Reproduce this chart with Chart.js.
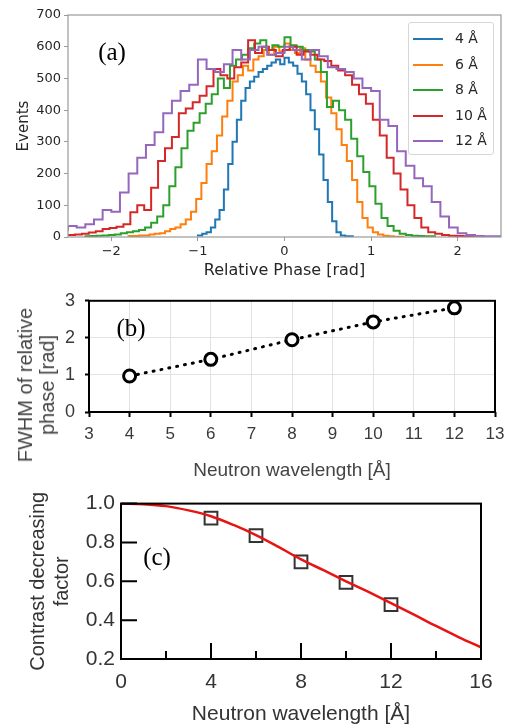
<!DOCTYPE html>
<html>
<head>
<meta charset="utf-8">
<script src="https://cdn.jsdelivr.net/npm/chart.js@4"></script>
<style>
body { margin:0; background:#fff; }
#wrap { position:relative; width:512px; height:728px; overflow:hidden; background:#fff; }
#wrap canvas { position:absolute; left:0; }
.panel { position:absolute; font-family:'Liberation Serif', serif; font-size:25px; color:#000; transform:translate(-50%,-50%); }
#ytitle_b { position:absolute; left:36px; top:385px; transform:translate(-50%,-50%) rotate(-90deg);
  font-family:'Liberation Sans', Arial, sans-serif; font-size:20px; line-height:22px; color:#444; text-align:center; white-space:nowrap; }
#legend { position:absolute; left:408px; top:22px; width:86px; height:133px; box-sizing:border-box; padding-top:3px;
  border:1px solid #d6d6d6; border-radius:3px; background:rgba(255,255,255,0.8);
  font-family:'DejaVu Sans', sans-serif; font-size:14px; color:#262626; }
#legend .item { height:25.5px; line-height:25.5px; white-space:nowrap; }
#legend .swatch { display:inline-block; width:30px; height:2px; margin-left:4px; margin-right:12px; vertical-align:middle; }
</style>
</head>
<body>
<div id="wrap">
  <canvas id="chartA" width="512" height="280" style="top:0px"></canvas>
  <canvas id="chartB" width="512" height="205" style="top:280px"></canvas>
  <canvas id="chartC" width="512" height="243" style="top:485px"></canvas>
  <div id="legend"></div>
  <div id="ytitle_b">FWHM of relative<br>phase [rad]</div>
  <div class="panel" style="left:112px;top:52px">(a)</div>
  <div class="panel" style="left:131px;top:328px">(b)</div>
  <div class="panel" style="left:157px;top:557px">(c)</div>
</div>
<script>
// (a) histograms of relative phase, one per wavelength
var phase_labels = ['4 Å', '6 Å', '8 Å', '10 Å', '12 Å'];
var phase_colors = ['#1f77b4', '#ff7f0e', '#2ca02c', '#d62728', '#9467bd'];
var bin_start = [-1.0, -1.8, -2.31, -2.5, -2.5];
var bin_width = [0.05, 0.06, 0.07, 0.08, 0.1];

var events_4 = [2,5,10,15,30,55,85,150,230,300, 370,430,470,490,505,520,530,540,550,560,
  545,565,550,540,515,490,450,400,340,260, 180,110,50,15,5,2];
var events_6 = [2,3,3,5,5,8,10,12,18,25, 30,40,55,80,120,170,230,270,320,380,
  430,490,510,540,525,560,570,590,575,600, 585,610,590,580,595,560,540,520,490,440,
  390,340,290,240,180,110,60,30,15,8, 4,2,1];
var events_8 = [2,2,3,4,5,6,8,12,15,18, 22,30,45,65,100,160,220,280,335,360,
  390,420,450,500,470,540,560,575,595,610, 620,590,605,600,630,605,600,590,585,560,
  520,410,430,400,370,310,255,205,160,105, 60,35,20,10,6,4,3,2];
var events_10 = [5,6,8,10,14,18,25,28,32,40, 78,100,85,155,240,280,315,390,405,425,
  445,475,530,510,500,535,550,620,580,600, 590,570,590,600,575,585,575,560,555,540,
  525,510,480,450,420,370,320,250,200,150, 100,60,30,15,10,6,4,3,2];
var events_12 = [20,35,30,40,55,85,80,140,200,250, 290,330,390,430,460,480,560,530,520,545,
  590,560,590,600,575,580,600,590,560,590, 570,535,530,520,500,470,460,370,350,270,
  225,185,160,110,65,30,12,6,3,2];
var phase_events = [events_4, events_6, events_8, events_10, events_12];
var phase_ticks_x = [-2, -1, 0, 1, 2];

// (b) FWHM vs wavelength
var wavelengths = [4, 6, 8, 10, 12];
var fwhm = [0.97, 1.42, 1.95, 2.43, 2.81];

// (c) contrast decreasing factor
var contrast = [0.925, 0.835, 0.70, 0.595, 0.48];
var fit_lambda = [0,1,2,3,4,5,6,7,8,9,10,11,12,13,14,15,16];
var fit_contrast = [1.0,0.997,0.987,0.965,0.935,0.89,0.838,0.777,0.713,0.657,0.6,0.545,0.488,0.43,0.37,0.313,0.26];
var ticks_c_x = [0, 4, 8, 12, 16];
var minor_c_x = [2, 6, 10, 14];
var ticks_c_y = [0.2, 0.4, 0.6, 0.8, 1.0];

Chart.defaults.font.family = "'Liberation Sans', Arial, sans-serif";
Chart.defaults.animation = false;
Chart.defaults.plugins.legend.display = false;
Chart.defaults.plugins.tooltip.enabled = false;

var framePlugin = {
	id: 'frame',
	afterDatasetsDraw: function(chart, args, opts) {
		var a = chart.chartArea;
		var ctx = chart.ctx;
		ctx.save();
		ctx.strokeStyle = opts.color;
		ctx.lineWidth = opts.width;
		ctx.strokeRect(a.left, a.top, a.right - a.left, a.bottom - a.top);
		ctx.restore();
	}
};

var innerTicksPlugin = {
	id: 'innerTicks',
	afterDatasetsDraw: function(chart) {
		var a = chart.chartArea;
		var ctx = chart.ctx;
		var sx = chart.scales.x, sy = chart.scales.y;
		ctx.save();
		ctx.strokeStyle = '#000';
		ctx.lineWidth = 2;
		ctx.beginPath();
		sx.ticks.forEach(function(t) {
			var px = sx.getPixelForValue(t.value);
			ctx.moveTo(px, a.bottom); ctx.lineTo(px, a.bottom - 16);
		});
		minor_c_x.forEach(function(v) {
			var px = sx.getPixelForValue(v);
			ctx.moveTo(px, a.bottom); ctx.lineTo(px, a.bottom - 8);
		});
		sy.ticks.forEach(function(t) {
			var py = sy.getPixelForValue(t.value);
			ctx.moveTo(a.left, py); ctx.lineTo(a.left + 16, py);
		});
		ctx.stroke();
		ctx.restore();
	}
};

function histPoints(i)
{
	var vals = phase_events[i];
	var pts = [];
	for (var k = 0; k < vals.length; k++)
		pts.push({x: bin_start[i] + k * bin_width[i], y: vals[k]});
	pts.push({x: bin_start[i] + vals.length * bin_width[i], y: vals[vals.length - 1]});
	return pts;
}

function fixedTicks(list)
{
	return function(scale) {
		scale.ticks = list.map(function(v) { return {value: v}; });
	};
}

// ---- (a)
var fontA = "'DejaVu Sans', sans-serif";
var setsA = [];
for (var i = 0; i < phase_labels.length; i++) {
	setsA.push({
		label: phase_labels[i],
		data: histPoints(i),
		borderColor: phase_colors[i],
		borderWidth: 2,
		pointRadius: 0,
		stepped: 'after',
		fill: false,
		order: phase_labels.length - 1 - i
	});
}

new Chart(document.getElementById('chartA'), {
	type: 'line',
	data: { datasets: setsA },
	options: {
		responsive: false,
		devicePixelRatio: 1,
		layout: { padding: { left: 0, right: 11, top: 15, bottom: 0 } },
		plugins: { frame: { color: '#9a9a9a', width: 1.2 } },
		scales: {
			x: {
				type: 'linear', min: -2.5, max: 2.5,
				afterBuildTicks: fixedTicks(phase_ticks_x),
				afterFit: function(s) { s.height = 43; },
				border: { display: false },
				grid: { drawOnChartArea: false, color: '#9a9a9a', tickLength: 4 },
				ticks: { color: '#262626', font: { family: fontA, size: 13 }, padding: 3,
					callback: function(v) { return v < 0 ? '\u2212' + Math.abs(v) : '' + v; } },
				title: { display: true, text: 'Relative Phase [rad]', color: '#262626',
					font: { family: fontA, size: 16 }, padding: { top: 0, bottom: 0 } }
			},
			y: {
				min: 0, max: 700,
				ticks: { stepSize: 100, color: '#262626', font: { family: fontA, size: 13 }, padding: 3 },
				afterFit: function(s) { s.width = 68; },
				border: { display: false },
				grid: { drawOnChartArea: false, color: '#9a9a9a', tickLength: 4 },
				title: { display: true, text: 'Events', color: '#262626',
					font: { family: fontA, size: 15 }, padding: { top: 15, bottom: 0 } }
			}
		}
	},
	plugins: [framePlugin]
});

var legend = document.getElementById('legend');
for (var i = 0; i < phase_labels.length; i++) {
	var item = document.createElement('div');
	item.className = 'item';
	item.innerHTML = '<span class="swatch" style="background:' + phase_colors[i] + '"></span>' + phase_labels[i];
	legend.appendChild(item);
}

// ---- (b)
new Chart(document.getElementById('chartB'), {
	type: 'line',
	data: {
		labels: wavelengths,
		datasets: [{
			data: wavelengths.map(function(w, k) { return {x: w, y: fwhm[k]}; }),
			borderColor: '#000',
			borderWidth: 3,
			borderDash: [1, 7],
			borderCapStyle: 'round',
			pointRadius: 6,
			pointBorderWidth: 3,
			pointBorderColor: '#000',
			pointBackgroundColor: '#fff',
			fill: false
		}]
	},
	options: {
		responsive: false,
		devicePixelRatio: 1,
		layout: { padding: { left: 0, right: 17, top: 15, bottom: 0 } },
		plugins: { frame: { color: '#000', width: 2 } },
		scales: {
			x: {
				type: 'linear', min: 3, max: 13,
				afterFit: function(s) { s.height = 73; },
				border: { display: false },
				grid: { color: '#e2e2e2', tickColor: '#000', tickLength: 5, tickWidth: 2 },
				ticks: { stepSize: 1, color: '#3a3a3a', font: { size: 17 }, padding: 7 },
				title: { display: true, text: 'Neutron wavelength [Å]', color: '#444',
					font: { size: 19 }, padding: { top: 0, bottom: 3 } }
			},
			y: {
				min: 0, max: 3,
				afterFit: function(s) { s.width = 89; },
				border: { display: false },
				grid: { color: '#e2e2e2', tickColor: '#000', tickLength: 4, tickWidth: 2 },
				ticks: { stepSize: 1, color: '#3a3a3a', font: { size: 18 }, padding: 10 }
			}
		}
	},
	plugins: [framePlugin]
});

// ---- (c)
new Chart(document.getElementById('chartC'), {
	type: 'line',
	data: {
		datasets: [{
			data: fit_lambda.map(function(l, k) { return {x: l, y: fit_contrast[k]}; }),
			borderColor: '#e81414',
			borderWidth: 2.5,
			pointRadius: 0,
			cubicInterpolationMode: 'monotone',
			fill: false
		}, {
			data: wavelengths.map(function(w, k) { return {x: w, y: contrast[k]}; }),
			showLine: false,
			pointStyle: 'rect',
			pointRadius: 9,
			pointBorderWidth: 2,
			pointBorderColor: '#333',
			pointBackgroundColor: 'rgba(0,0,0,0)'
		}]
	},
	options: {
		responsive: false,
		devicePixelRatio: 1,
		layout: { padding: { left: 0, right: 31, top: 14, bottom: 0 } },
		plugins: { frame: { color: '#000', width: 2 } },
		scales: {
			x: {
				type: 'linear', min: 0, max: 16,
				afterBuildTicks: fixedTicks(ticks_c_x),
				afterFit: function(s) { s.height = 69; },
				border: { display: false },
				grid: { display: false, drawTicks: false },
				ticks: { color: '#333', font: { size: 21 }, padding: 11 },
				title: { display: true, text: 'Neutron wavelength [Å]', color: '#333',
					font: { size: 21 }, padding: { top: 0, bottom: 1 } }
			},
			y: {
				min: 0.2, max: 1.0,
				afterBuildTicks: fixedTicks(ticks_c_y),
				afterFit: function(s) { s.width = 121; },
				border: { display: false },
				grid: { display: false, drawTicks: false },
				ticks: { color: '#333', font: { size: 21 }, padding: 6,
					callback: function(v) { return v.toFixed(1); } },
				title: { display: true, text: ['Contrast decreasing', 'factor'], color: '#333',
					font: { size: 20 }, padding: { top: 26, bottom: 0 } }
			}
		}
	},
	plugins: [framePlugin, innerTicksPlugin]
});
</script>
</body>
</html>
